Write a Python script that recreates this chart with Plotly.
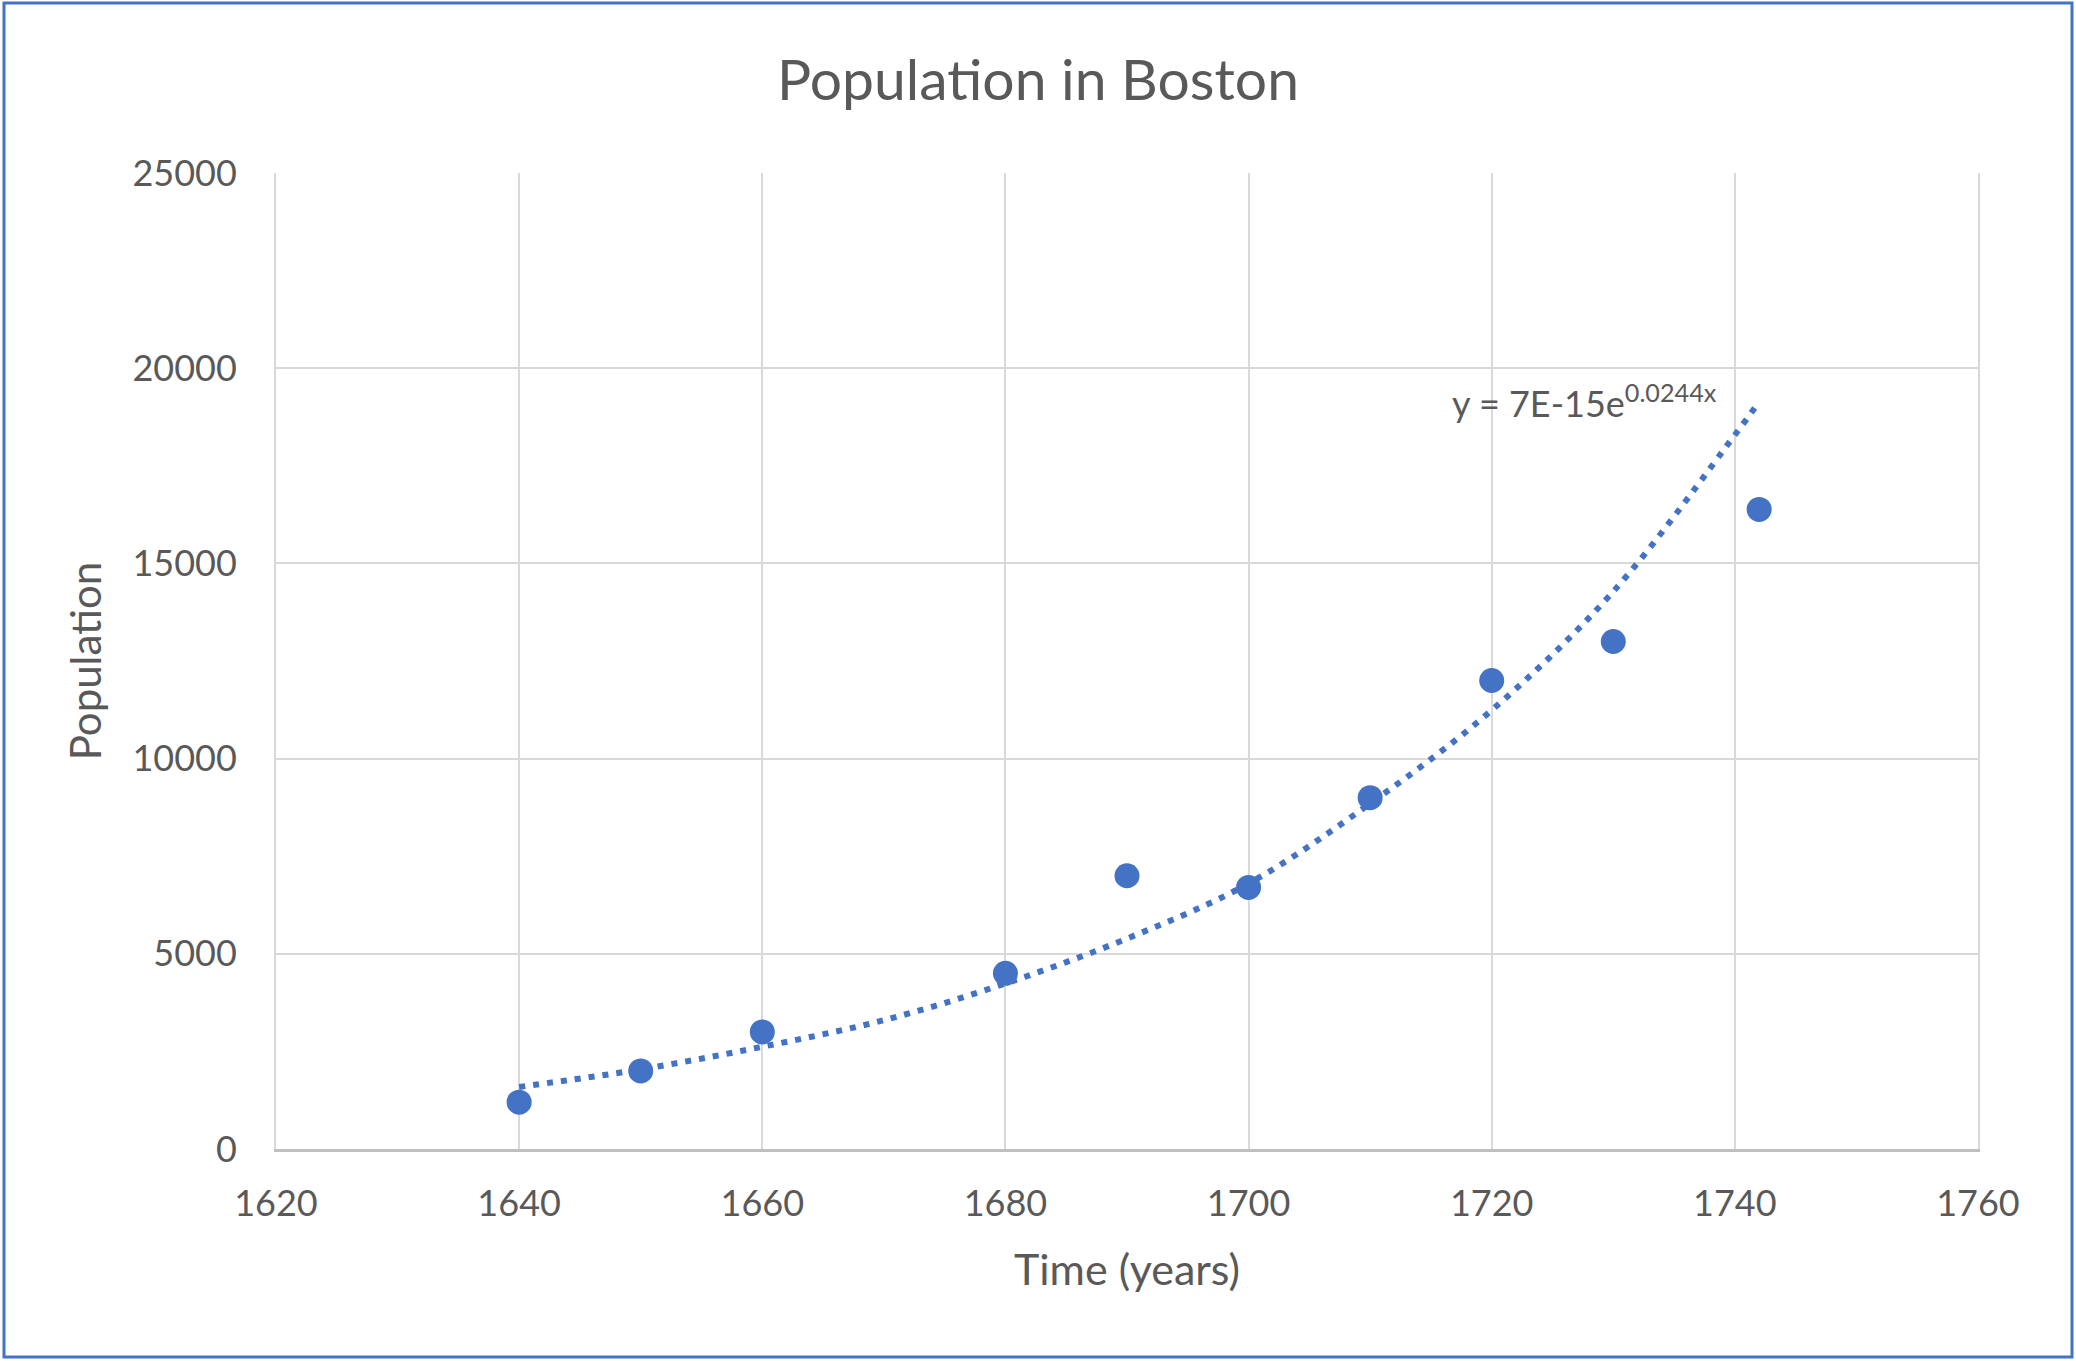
import plotly.graph_objects as go

# ---- data ----
years = [1640, 1650, 1660, 1680, 1690, 1700, 1710, 1720, 1730, 1742]
population = [1200, 2000, 3000, 4500, 7000, 6700, 9000, 12000, 13000, 16382]

# exponential trendline, values
trend_years = [1640, 1650, 1660, 1670, 1680, 1690, 1700, 1710, 1720, 1730, 1740, 1742]
trend_values = [1590, 2040, 2620, 3300, 4240, 5390, 6800, 8850, 11240, 14280, 18290, 19140]

x_ticks = [1620, 1640, 1660, 1680, 1700, 1720, 1740, 1760]
y_ticks = [0, 5000, 10000, 15000, 20000, 25000]

title_text = "Population in Boston"
x_title = "Time (years)"
y_title = "Population"
equation_text = "y = 7E-15e<sup>0.0244x</sup>"

# ---- style ----
W, H = 2076, 1361
L, R, T, B = 276, 98, 173, 212
BLUE = "#4472C4"
TEXT = "#595959"
GRID = "#D9D9D9"
FONT = "Lato"

fig = go.Figure()

fig.add_trace(go.Scatter(
    x=trend_years, y=trend_values, mode="lines",
    line=dict(color=BLUE, width=6, dash="6px,8px", shape="spline", smoothing=1.0),
    showlegend=False, hoverinfo="skip",
))

fig.add_trace(go.Scatter(
    x=years, y=population, mode="markers",
    marker=dict(color=BLUE, size=25, line=dict(width=0)),
    showlegend=False,
))

pw = W - L - R
ph = H - T - B


def px_x(p):
    return (p - L) / pw


def px_y(p):
    return (H - B - p) / ph


fig.add_shape(
    type="rect", xref="paper", yref="paper",
    x0=px_x(4), x1=px_x(2072), y0=px_y(1357), y1=px_y(3),
    line=dict(color=BLUE, width=3), fillcolor="rgba(0,0,0,0)", layer="above",
)

fig.add_annotation(
    x=1716.6, y=19150, xref="x", yref="y",
    text=equation_text, showarrow=False,
    xanchor="left", yanchor="middle",
    font=dict(family=FONT, size=36, color=TEXT),
)

fig.update_layout(
    width=W, height=H,
    margin=dict(l=L, r=R, t=T, b=B, autoexpand=False),
    paper_bgcolor="white", plot_bgcolor="white",
    font=dict(family=FONT, color=TEXT),
    title=dict(
        text=title_text, x=0.5, xref="container",
        y=1 - 80 / H, yref="container", xanchor="center", yanchor="middle",
        font=dict(family=FONT, size=57, color=TEXT),
    ),
    showlegend=False,
)

fig.update_xaxes(
    range=[1620, 1760], tickvals=x_ticks, ticktext=[str(v) for v in x_ticks],
    showgrid=True, gridcolor=GRID, gridwidth=2,
    showline=True, linecolor="#BFBFBF", linewidth=3,
    zeroline=False, ticks="", ticklabelstandoff=21,
    tickfont=dict(family=FONT, size=36, color=TEXT),
    title=dict(text=x_title, standoff=32, font=dict(family=FONT, size=43, color=TEXT)),
    automargin=False,
)

fig.update_yaxes(
    range=[0, 25000], tickvals=y_ticks, ticktext=[str(v) for v in y_ticks],
    showgrid=True, gridcolor=GRID, gridwidth=2,
    showline=True, linecolor=GRID, linewidth=2, mirror=True,
    zeroline=False, ticks="", ticklabelstandoff=30,
    tickfont=dict(family=FONT, size=36, color=TEXT),
    title=dict(text=y_title, standoff=18, font=dict(family=FONT, size=42, color=TEXT)),
    automargin=False,
)

fig.write_html(
    "out.html",
    config={"displayModeBar": False},
    post_script="document.body.style.margin='0';document.body.style.overflow='hidden';",
)
